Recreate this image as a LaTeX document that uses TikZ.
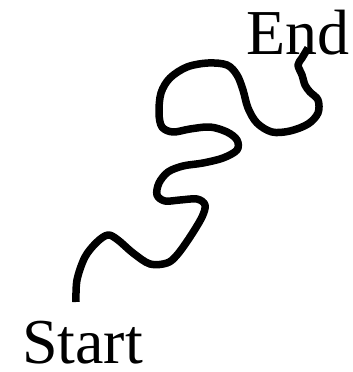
\documentclass[tikz,border=0pt]{standalone}
\usepackage{fontspec}
\setmainfont{Liberation Serif}
\usepackage{tikz}
\usetikzlibrary{positioning}
\tikzset{
  lbl/.style={inner sep=0pt,outer sep=0pt,text depth=0pt,font=\fontsize{64}{64}\selectfont},
  trail/.style={line width=7.5pt,line join=round,draw=black}
}

\begin{document}
\begin{tikzpicture}[x=1pt,y=-1pt]
    \useasboundingbox (0,0) rectangle (353,372);
    % Labels
    \node[lbl,anchor=base west] (start) at (22,363) {Start};
    \node[lbl,anchor=base west] (finish) at (246,54) {End};
    
    % Ends of the path
    \coordinate (tail) at (76,302);
    \coordinate (head) at (308,48);
    
    % Winding path
    \draw[trail] plot[smooth,tension=0.55] coordinates {
      (tail) (77,280) (85,257) (97,242) (108,235) (118,240) (133,253)
      (150,264) (167,263) (177,255) (190,237) (202,217) (205,205)
      (197,199) (180,200) (165,201) (157,195) (159,183) (168,172)
      (183,166) (203,163) (223,158) (237,150) (237,140) (227,132)
      (210,127) (190,129) (173,132) (162,127) (159,113) (161,93)
      (170,78) (187,67) (208,63) (227,65) (237,75) (243,90)
      (248,108) (257,123) (272,132) (290,131) (308,124) (318,113)
      (318,100) (310,92) (305,85) (302,75) (298,65) (302,58) (head)};
    
\end{tikzpicture}
\end{document}
